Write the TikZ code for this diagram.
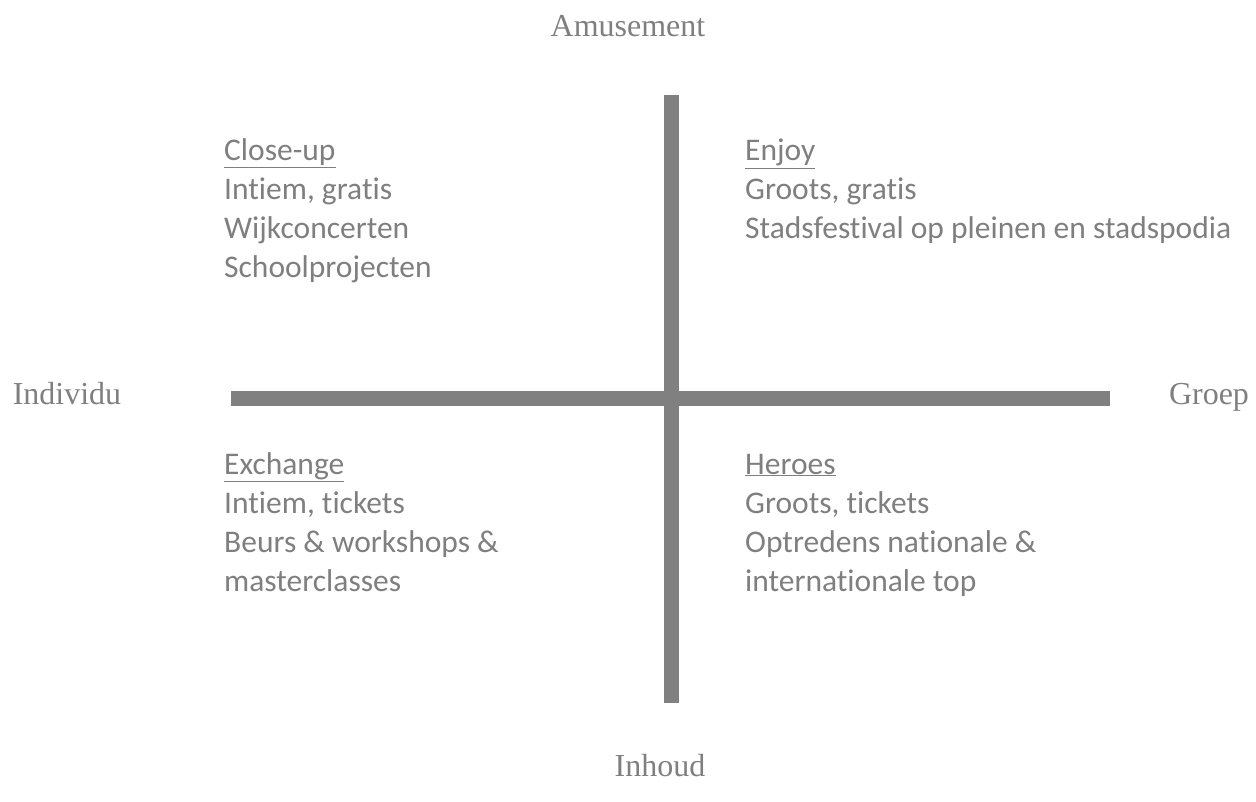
\documentclass[tikz,border=0pt]{standalone}
\usepackage{fontspec}
\setmainfont{Liberation Serif}
\newfontfamily\quadfont[Ligatures={NoCommon}]{Carlito}
\usetikzlibrary{positioning}
\definecolor{axisgray}{HTML}{808080}
\definecolor{textgray}{HTML}{7F7F7F}

\begin{document}
\begin{tikzpicture}[
    x=1pt, y=-1pt,
    axis/.style={
        draw=axisgray,
        line width=15pt
    },
    pole/.style={
        text=textgray,
        inner sep=0pt,
        anchor=base,
        font=\fontsize{32}{32}\selectfont
    },
    quadrant/.style={
        text=textgray,
        inner sep=0pt,
        anchor=base west, % baseline of the last line
        align=left,
        font=\quadfont\fontsize{31.5}{39}\selectfont
    }
]
\useasboundingbox (0,0) rectangle (1256,802);
% axes
\coordinate (top) at (671,95);
\coordinate (bottom) at (671,703);
\coordinate (left) at (231,398);
\coordinate (right) at (1110,398);
\draw[axis] (left) -- (right);
\draw[axis] (top) -- (bottom);
% poles
\node[pole] (amusement) at (628,37) {Amusement};
\node[pole] (inhoud) at (660,776) {Inhoud};
\node[pole] (individu) at (67,404) {Individu};
\node[pole] (groep) at (1209,404) {Groep};
% quadrants
\node[quadrant] (closeup) at (224,278) {\underline{Close-up}\\Intiem, gratis\\Wijkconcerten\\Schoolprojecten};
\node[quadrant] (enjoy) at (745,239) {\underline{Enjoy}\\Groots, gratis\\Stadsfestival op pleinen en stadspodia};
\node[quadrant] (exchange) at (224,591) {\underline{Exchange}\\Intiem, tickets\\Beurs \& workshops \&\\masterclasses};
\node[quadrant] (heroes) at (745,591) {\underline{Heroes}\\Groots, tickets\\Optredens nationale \&\\internationale top};
\end{tikzpicture}
\end{document}
